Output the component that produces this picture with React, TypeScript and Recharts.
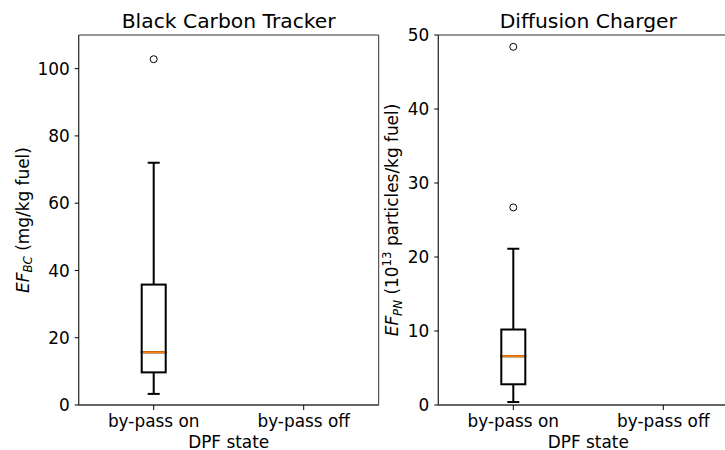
import {
  Bar,
  ComposedChart,
  Label,
  ReferenceArea,
  Scatter,
  XAxis,
  YAxis,
} from "recharts";

const categories = ["by-pass on", "by-pass off"];

// Black Carbon Tracker (mg/kg fuel)
const bcMin = [3.3, null];
const bcQ1 = [9.7, null];
const bcMedian = [15.7, null];
const bcQ3 = [35.8, null];
const bcMax = [72.0, null];
const bcOutliers = [[102.8], []];
const bcTicks = [0, 20, 40, 60, 80, 100];

// Diffusion Charger (1e13 particles/kg fuel)
const dcMin = [0.4, null];
const dcQ1 = [2.8, null];
const dcMedian = [6.6, null];
const dcQ3 = [10.2, null];
const dcMax = [21.1, null];
const dcOutliers = [[48.4, 26.7], []];
const dcTicks = [0, 10, 20, 30, 40, 50];

const FONT = "DejaVu Sans";
const MEDIAN_COLOR = "#ff7f0e";
const FS = 16.9;
const SUB = 11.8;

type Stats = {
  min: (number | null)[];
  q1: (number | null)[];
  median: (number | null)[];
  q3: (number | null)[];
  max: (number | null)[];
  outliers: number[][];
};

const buildRows = (s: Stats) =>
  categories.map((cat, i) => {
    const row: any = { cat };
    if (s.min[i] != null) {
      row.base = s.min[i];
      row.lowWhisker = (s.q1[i] as number) - (s.min[i] as number);
      row.lowBox = (s.median[i] as number) - (s.q1[i] as number);
      row.highBox = (s.q3[i] as number) - (s.median[i] as number);
      row.highWhisker = (s.max[i] as number) - (s.q3[i] as number);
    }
    s.outliers[i].forEach((v, k) => {
      row["out" + k] = v;
    });
    return row;
  });

const CAP = 12;

const LowWhisker = (props: any) => {
  const { x, y, width, height, payload } = props;
  if (!payload || payload.base == null) return null;
  const cx = x + width / 2;
  return (
    <g stroke="#000" strokeWidth={2}>
      <line x1={cx} x2={cx} y1={y} y2={y + height} />
      <line x1={cx - CAP / 2} x2={cx + CAP / 2} y1={y + height} y2={y + height} />
    </g>
  );
};

const HighWhisker = (props: any) => {
  const { x, y, width, height, payload } = props;
  if (!payload || payload.base == null) return null;
  const cx = x + width / 2;
  return (
    <g stroke="#000" strokeWidth={2}>
      <line x1={cx} x2={cx} y1={y} y2={y + height} />
      <line x1={cx - CAP / 2} x2={cx + CAP / 2} y1={y} y2={y} />
    </g>
  );
};

const LowBox = (props: any) => {
  const { x, y, width, height, payload } = props;
  if (!payload || payload.base == null) return null;
  return (
    <rect x={x} y={y} width={width} height={height} fill="none" stroke="#000" strokeWidth={2} />
  );
};

const HighBox = (props: any) => {
  const { x, y, width, height, payload } = props;
  if (!payload || payload.base == null) return null;
  return (
    <g>
      <rect x={x} y={y} width={width} height={height} fill="none" stroke="#000" strokeWidth={2} />
      <line x1={x + 1} x2={x + width - 1} y1={y + height} y2={y + height} stroke={MEDIAN_COLOR} strokeWidth={2} />
    </g>
  );
};

const Outlier = (props: any) => {
  const { cx, cy } = props;
  if (cx == null || cy == null || isNaN(cy)) return null;
  return <circle cx={cx} cy={cy} r={3.5} fill="none" stroke="#000" strokeWidth={1} />;
};

const XTick = (props: any) => {
  const { x, y, payload } = props;
  return (
    <text x={x} y={y} dy={FS * 0.7} textAnchor="middle" fontFamily={FONT} fontSize={FS} fill="#000">
      {payload.value}
    </text>
  );
};

const YTick = (props: any) => {
  const { x, y, payload } = props;
  return (
    <text x={x} y={y} dy={FS * 0.36} textAnchor="end" fontFamily={FONT} fontSize={FS} fill="#000">
      {payload.value}
    </text>
  );
};

type PanelProps = {
  stats: Stats;
  domain: [number, number];
  ticks: number[];
  yLabel: () => any;
  left: number;
  marginLeft: number;
  marginRight: number;
  title: string;
  nOut: number;
};

const Panel = ({ stats, domain, ticks, yLabel, left, marginLeft, marginRight, title, nOut }: PanelProps) => {
  const rows = buildRows(stats);
  const plotLeft = marginLeft + 60;
  return (
    <div style={{ position: "absolute", left, top: 0, width: 380, height: 450 }}>
      <div
        style={{
          position: "absolute",
          left: plotLeft,
          width: 300,
          top: 9,
          textAlign: "center",
          fontFamily: FONT,
          fontSize: 20.3,
          color: "#000",
          lineHeight: "24px",
          whiteSpace: "nowrap",
        }}
      >
        {title}
      </div>
      <ComposedChart
        width={380}
        height={450}
        data={rows}
        margin={{ top: 35, right: marginRight, bottom: 0, left: marginLeft }}
        barCategoryGap={0}
      >
        <XAxis
          dataKey="cat"
          type="category"
          height={45}
          tick={<XTick />}
          tickSize={5}
          tickMargin={5}
          tickLine={{ stroke: "#000" }}
          axisLine={{ stroke: "#333" }}
        >
          <Label
            content={(p: any) => {
              const vb = p.viewBox;
              return (
                <text
                  x={vb.x + vb.width / 2}
                  y={447.5}
                  textAnchor="middle"
                  fontFamily={FONT}
                  fontSize={FS}
                  fill="#000"
                >
                  DPF state
                </text>
              );
            }}
          />
        </XAxis>
        <YAxis
          type="number"
          domain={domain}
          ticks={ticks}
          width={60}
          tick={<YTick />}
          tickSize={4}
          tickMargin={5}
          tickLine={{ stroke: "#000" }}
          axisLine={{ stroke: "#333" }}
          allowDataOverflow
        >
          <Label content={() => yLabel()} />
        </YAxis>
        <ReferenceArea
          y1={domain[0]}
          y2={domain[1]}
          fill="none"
          stroke="#333"
          strokeWidth={1}
          ifOverflow="visible"
        />
        <Bar dataKey="base" stackId="b" barSize={24} fill="none" isAnimationActive={false} shape={() => null} />
        <Bar dataKey="lowWhisker" stackId="b" barSize={24} isAnimationActive={false} shape={LowWhisker} />
        <Bar dataKey="lowBox" stackId="b" barSize={24} isAnimationActive={false} shape={LowBox} />
        <Bar dataKey="highBox" stackId="b" barSize={24} isAnimationActive={false} shape={HighBox} />
        <Bar dataKey="highWhisker" stackId="b" barSize={24} isAnimationActive={false} shape={HighWhisker} />
        {Array.from({ length: nOut }).map((_, k) => (
          <Scatter key={k} dataKey={"out" + k} isAnimationActive={false} shape={Outlier} />
        ))}
      </ComposedChart>
    </div>
  );
};

const bcLabel = () => {
  const cx = 28.5;
  const cy = 220;
  return (
    <text
      x={cx}
      y={cy}
      transform={`rotate(-90, ${cx}, ${cy})`}
      textAnchor="middle"
      fontFamily={FONT}
      fontSize={FS}
      fill="#000"
    >
      <tspan fontStyle="italic">EF</tspan>
      <tspan fontStyle="italic" fontSize={SUB} dy={3.5}>BC</tspan>
      <tspan dy={-3.5}> (mg/kg fuel)</tspan>
    </text>
  );
};

const dcLabel = () => {
  const cx = 28;
  const cy = 220;
  return (
    <text
      x={cx}
      y={cy}
      transform={`rotate(-90, ${cx}, ${cy})`}
      textAnchor="middle"
      fontFamily={FONT}
      fontSize={FS}
      fill="#000"
    >
      <tspan fontStyle="italic">EF</tspan>
      <tspan fontStyle="italic" fontSize={SUB} dy={3.5}>PN</tspan>
      <tspan dy={-3.5}> (10</tspan>
      <tspan fontSize={SUB} dy={-7}>13</tspan>
      <tspan dy={7}> particles/kg fuel)</tspan>
    </text>
  );
};

const App = () => {
  return (
    <div
      style={{
        position: "absolute",
        left: 0,
        top: 0,
        width: 725,
        height: 450,
        overflow: "hidden",
        background: "#fff",
      }}
    >
      <Panel
        stats={{ min: bcMin, q1: bcQ1, median: bcMedian, q3: bcQ3, max: bcMax, outliers: bcOutliers }}
        domain={[0, 110]}
        ticks={bcTicks}
        yLabel={bcLabel}
        left={0}
        marginLeft={18.7}
        marginRight={1.3}
        title="Black Carbon Tracker"
        nOut={1}
      />
      <Panel
        stats={{ min: dcMin, q1: dcQ1, median: dcMedian, q3: dcQ3, max: dcMax, outliers: dcOutliers }}
        domain={[0, 50]}
        ticks={dcTicks}
        yLabel={dcLabel}
        left={370}
        marginLeft={8.3}
        marginRight={11.7}
        title="Diffusion Charger"
        nOut={2}
      />
    </div>
  );
};

export default App;
